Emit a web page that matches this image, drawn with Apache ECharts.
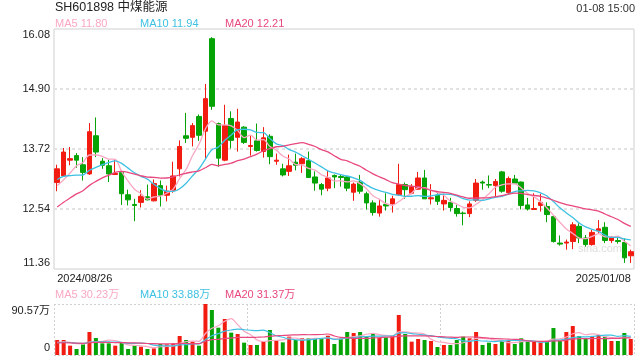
<!DOCTYPE html>
<html>
<head>
<meta charset="utf-8">
<script src="https://cdn.jsdelivr.net/npm/echarts@6/dist/echarts.min.js"></script>
<style>
html,body{margin:0;padding:0;background:#fff;}
#chart{width:640px;height:360px;}
</style>
</head>
<body>
<div id="chart"></div>
<script>
const dates = [
'2024/08/26','2024/08/27','2024/08/28','2024/08/29','2024/08/30',
'2024/09/02','2024/09/03','2024/09/04','2024/09/05','2024/09/06',
'2024/09/09','2024/09/10','2024/09/11','2024/09/12','2024/09/13',
'2024/09/18','2024/09/19','2024/09/20',
'2024/09/23','2024/09/24','2024/09/25','2024/09/26','2024/09/27','2024/09/30',
'2024/10/08','2024/10/09','2024/10/10','2024/10/11',
'2024/10/14','2024/10/15','2024/10/16','2024/10/17','2024/10/18',
'2024/10/21','2024/10/22','2024/10/23','2024/10/24','2024/10/25',
'2024/10/28','2024/10/29','2024/10/30','2024/10/31','2024/11/01',
'2024/11/04','2024/11/05','2024/11/06','2024/11/07','2024/11/08',
'2024/11/11','2024/11/12','2024/11/13','2024/11/14','2024/11/15',
'2024/11/18','2024/11/19','2024/11/20','2024/11/21','2024/11/22',
'2024/11/25','2024/11/26','2024/11/27','2024/11/28','2024/11/29',
'2024/12/02','2024/12/03','2024/12/04','2024/12/05','2024/12/06',
'2024/12/09','2024/12/10','2024/12/11','2024/12/12','2024/12/13',
'2024/12/16','2024/12/17','2024/12/18','2024/12/19','2024/12/20',
'2024/12/23','2024/12/24','2024/12/25','2024/12/26','2024/12/27',
'2024/12/30','2024/12/31','2025/01/02','2025/01/03',
'2025/01/06','2025/01/07','2025/01/08'
];
const opens = [13.06,13.19,13.50,13.59,13.41,13.23,13.98,13.48,13.39,13.22,
13.26,12.82,12.63,12.67,12.78,12.70,13.00,12.81,12.91,13.33,
13.98,13.95,14.36,14.07,15.89,14.22,13.50,14.32,13.95,14.15,
13.77,13.88,13.67,13.97,13.48,13.33,13.28,13.46,13.43,13.49,
13.17,13.02,12.95,13.20,13.18,13.17,12.87,13.07,12.84,12.66,
12.46,12.63,12.64,12.82,13.02,12.85,12.93,13.15,12.74,12.81,
12.64,12.67,12.55,12.46,12.45,12.71,13.07,13.02,13.00,13.27,
12.86,13.13,13.07,12.62,12.53,12.61,12.59,12.39,11.87,11.87,
11.90,12.20,11.97,11.84,12.11,12.18,11.92,11.92,11.88,11.62];
const closes = [13.33,13.66,13.53,13.50,13.26,14.06,13.66,13.40,13.23,13.24,
12.84,12.72,12.61,12.79,12.72,13.04,12.81,12.89,13.19,13.77,
13.93,14.18,13.99,14.71,14.56,13.54,14.18,13.89,14.25,13.85,
13.79,13.69,13.94,13.57,13.50,13.21,13.39,13.40,13.53,13.16,
13.05,12.93,13.15,13.17,13.16,12.95,13.03,12.89,12.66,12.47,
12.60,12.60,12.74,13.02,12.92,12.98,13.15,12.74,12.76,12.69,
12.71,12.57,12.45,12.45,12.64,13.05,13.05,13.01,13.08,12.89,
13.14,13.05,12.61,12.54,12.55,12.67,12.43,11.90,11.85,11.89,
12.23,11.97,11.84,12.08,12.15,11.92,11.97,11.90,11.58,11.70];
const lows = [12.89,13.18,13.40,13.35,13.10,13.21,13.56,13.33,13.07,13.21,
12.62,12.61,12.30,12.57,12.71,12.69,12.59,12.69,12.86,13.18,
13.84,13.77,13.88,13.51,14.49,13.37,13.48,13.73,13.67,13.82,
13.59,13.67,13.55,13.42,13.41,13.18,13.19,13.30,13.25,13.15,
12.90,12.81,12.89,12.95,12.98,12.89,12.70,12.84,12.53,12.41,
12.39,12.51,12.47,12.80,12.74,12.83,12.92,12.74,12.63,12.62,
12.51,12.49,12.39,12.22,12.38,12.68,12.92,12.95,12.79,12.86,
12.82,13.04,12.53,12.51,12.52,12.49,12.28,11.88,11.82,11.74,
11.75,11.87,11.80,11.82,12.07,11.87,11.87,11.86,11.48,11.48];
const highs = [13.41,13.74,13.76,13.64,13.56,14.23,14.34,13.54,13.51,13.52,
13.28,12.92,12.74,12.91,13.02,13.12,13.10,13.00,13.47,13.89,
14.43,14.23,14.40,15.00,15.92,14.24,14.59,14.46,14.51,14.17,
13.98,14.22,14.15,14.01,13.63,13.43,13.61,13.63,13.56,13.67,
13.28,13.05,13.29,13.22,13.21,13.19,13.06,13.21,12.88,12.71,
12.74,12.85,12.80,13.43,13.06,13.03,13.27,13.31,13.03,12.85,
12.84,12.76,12.62,12.49,12.69,13.13,13.10,13.20,13.13,13.29,
13.18,13.21,13.08,12.76,12.85,12.84,12.67,12.41,12.02,11.94,
12.28,12.26,12.03,12.13,12.32,12.28,12.01,12.00,11.96,11.74];
// volume in 万 (10k shares)
const volumes = [26.6,26.6,16.6,10.7,18.9,40.8,30.2,20.7,20.7,16.6,
21.9,10.7,16.6,14.8,10.7,11.8,19.5,18.9,20.7,33.7,
26.6,23.7,16.6,90.57,79.9,48.5,63.9,39.7,37.3,21.9,
17.8,17.8,24.9,44.4,24.9,22.5,32.6,26.6,29.6,29.6,
30.0,29.6,34.3,19.5,29.6,40.8,39.1,40.8,33.7,37.3,
30.8,31.4,34.3,71.0,37.3,23.7,28.4,26.6,24.9,14.2,
17.8,17.8,26.6,32.6,29.6,40.8,17.8,21.9,19.5,24.9,
24.9,19.5,29.6,23.7,23.7,22.5,23.7,47.9,24.9,40.8,
51.5,33.7,29.0,32.6,35.5,32.6,24.9,24.9,39.1,28.4];
// closes / volumes of the 19 sessions before the window (estimated from MA lines)
const prevCloses = [11.78,11.92,11.86,12.01,11.95,12.08,12.02,12.19,12.11,12.48,
13.05,13.38,13.41,13.22,13.14,13.08,12.87,12.78,12.94];
const prevVolumes = [18.5,22.1,19.8,24.3,20.6,17.9,21.4,23.0,19.2,22.7,
20.1,18.8,24.9,21.5,19.6,22.3,20.4,23.6,19.9];
const maPeriods = [5, 10, 20];
const priceLegend = ['MA5 11.80', 'MA10 11.94', 'MA20 12.21'];
const volLegend = ['MA5 30.23万', 'MA10 33.88万', 'MA20 31.37万'];
const titleText = 'SH601898 中煤能源';
const timeText = '01-08 15:00';
const priceMin = 11.36, priceMax = 16.08, priceStep = 1.18;
const volMax = 90.57;

const UP = '#f21b10', DOWN = '#05a305';
const MA_COLORS = ['#f9a8c4', '#3ec1e3', '#e8487e'];
const FONT = '"Liberation Sans", Arial, "Noto Sans CJK SC", sans-serif';

function movingAvg(n, vals, prev) {
  const all = prev.concat(vals);
  const off = prev.length;
  return vals.map((_, i) => {
    let s = 0;
    for (let k = 0; k < n; k++) s += all[off + i - k];
    return +(s / n).toFixed(3);
  });
}

const kData = opens.map((o, i) => [o, closes[i], lows[i], highs[i]]);
const volData = volumes.map((v, i) => ({
  value: v,
  itemStyle: { color: closes[i] >= opens[i] ? UP : DOWN }
}));

const chart = echarts.init(document.getElementById('chart'), null, { renderer: 'canvas' });

const series = [
  {
    type: 'candlestick', xAxisIndex: 0, yAxisIndex: 0, data: kData, barWidth: 5,
    itemStyle: { color: UP, color0: DOWN, borderColor: UP, borderColor0: DOWN, borderWidth: 1 },
    z: 3
  },
  {
    type: 'bar', xAxisIndex: 1, yAxisIndex: 1, data: volData, barWidth: 4, z: 2
  }
];
maPeriods.forEach((n, j) => {
  series.push({
    type: 'line', xAxisIndex: 0, yAxisIndex: 0, data: movingAvg(n, closes, prevCloses),
    symbol: 'none', smooth: 0.3, z: 4,
    lineStyle: { color: MA_COLORS[j], width: 1.3 }
  });
  series.push({
    type: 'line', xAxisIndex: 1, yAxisIndex: 1, data: movingAvg(n, volumes, prevVolumes),
    symbol: 'none', smooth: 0.3, z: 4,
    lineStyle: { color: MA_COLORS[j], width: 1.2 }
  });
});

function txt(x, y, text, color, size, align) {
  return {
    type: 'text', x: x, y: y, z: 10,
    style: { text: text, fill: color, font: size + 'px ' + FONT, align: align || 'left', verticalAlign: 'middle' }
  };
}
const legendX = [55, 140, 225];
const graphics = [
  txt(55, 8, titleText, '#222', 12.5),
  txt(635, 9, timeText, '#333', 11, 'right'),
  { type: 'text', x: 600, y: 249, z: 1, silent: true,
    style: { text: 'sina.com', fill: '#dcdcdc', font: '11px ' + FONT, align: 'center', verticalAlign: 'middle' } }
];
priceLegend.forEach((t, j) => graphics.push(txt(legendX[j], 24, t, MA_COLORS[j], 11)));
volLegend.forEach((t, j) => graphics.push(txt(legendX[j], 295, t, MA_COLORS[j], 11)));

const option = {
  animation: false,
  backgroundColor: '#fff',
  textStyle: { fontFamily: FONT },
  grid: [
    { left: 54, right: 6, top: 29, height: 240, show: true, borderColor: '#cfcfcf', borderWidth: 1 },
    { left: 54, right: 6, top: 304, height: 51, show: false }
  ],
  xAxis: [
    {
      type: 'category', gridIndex: 0, data: dates, boundaryGap: true,
      axisLine: { show: false }, axisTick: { show: false },
      axisLabel: {
        show: true, color: '#222', fontSize: 11, margin: 4,
        interval: (i) => i === 0 || i === dates.length - 1,
        alignMinLabel: 'left', alignMaxLabel: 'right'
      },
      splitLine: { show: false }
    },
    {
      type: 'category', gridIndex: 1, data: dates, boundaryGap: true,
      axisLine: { show: false }, axisTick: { show: false }, axisLabel: { show: false },
      splitLine: { show: false }
    },
    {
      type: 'value', gridIndex: 1, min: 0, max: 3, interval: 1,
      axisLine: { show: false }, axisTick: { show: false }, axisLabel: { show: false },
      splitLine: { show: true, lineStyle: { color: '#d0d0d0', type: [2, 2], width: 1 } }
    }
  ],
  yAxis: [
    {
      type: 'value', gridIndex: 0, min: priceMin, max: priceMax, interval: priceStep,
      axisLine: { show: false }, axisTick: { show: false },
      axisLabel: {
        color: '#222', fontSize: 11, margin: 4,
        formatter: (v) => {
          const s = v.toFixed(2);
          if (Math.abs(v - priceMax) < 1e-6) return '{t|' + s + '}';
          if (Math.abs(v - priceMin) < 1e-6) return '{b|' + s + '}';
          return s;
        },
        rich: {
          t: { padding: [11, 0, 0, 0], fontSize: 11, color: '#222' },
          b: { padding: [0, 0, 12, 0], fontSize: 11, color: '#222' }
        }
      },
      splitLine: { show: true, showMinLine: false, showMaxLine: false,
        lineStyle: { color: '#e2e2e2', type: [3, 3], width: 2 } }
    },
    {
      type: 'value', gridIndex: 1, min: 0, max: volMax, interval: volMax,
      axisLine: { show: false }, axisTick: { show: false },
      axisLabel: {
        color: '#222', fontSize: 11, margin: 4,
        formatter: (v) => v === 0 ? '{b|0}' : '{t|' + v.toFixed(2) + '万}',
        rich: {
          t: { padding: [14, 0, 0, 0], fontSize: 11, color: '#222' },
          b: { padding: [0, 0, 14, 0], fontSize: 11, color: '#222' }
        }
      },
      splitLine: { show: true, lineStyle: { color: '#d0d0d0', type: [2, 2], width: 1 } }
    }
  ],
  graphic: graphics,
  series: series
};
chart.setOption(option);
</script>
</body>
</html>
